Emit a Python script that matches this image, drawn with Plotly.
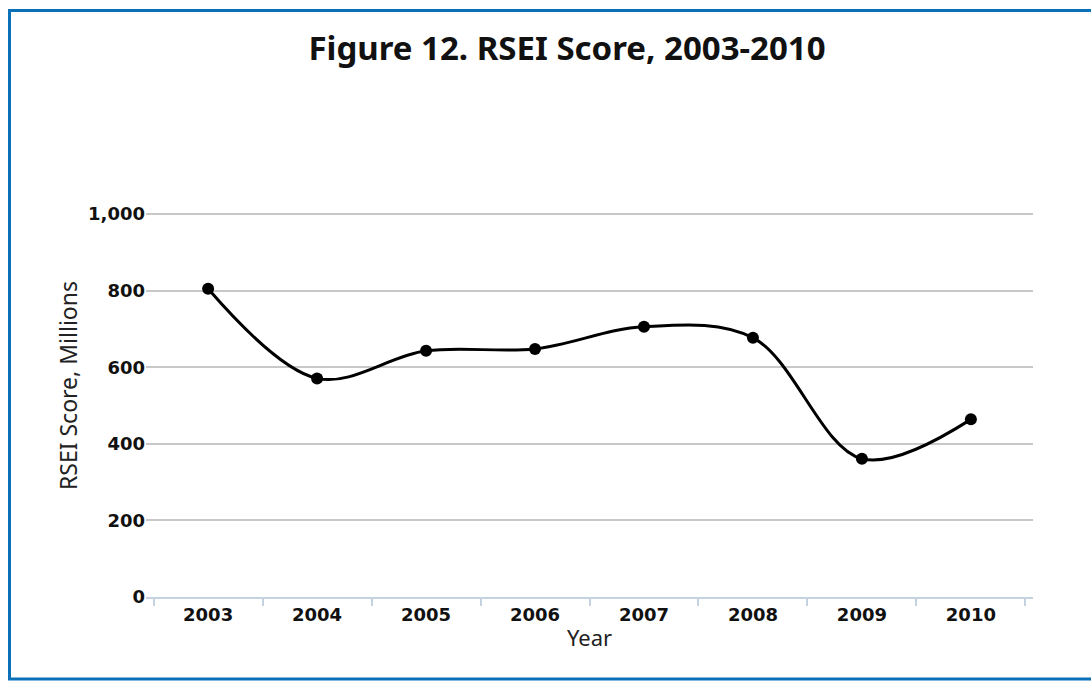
import plotly.graph_objects as go

# Datos
years = ['2003', '2004', '2005', '2006', '2007', '2008', '2009', '2010']
rsei_millions = [805, 571, 643, 648, 706, 677, 361, 464]
y_ticks = [0, 200, 400, 600, 800, 1000]

W, H = 1091, 681
M_L, M_R, M_T, M_B = 146, 58, 213, 84


def px_to_paper(x_px, y_px):
    # Convierte píxeles de la página a coordenadas 'paper'
    pw = W - M_L - M_R
    ph = H - M_T - M_B
    return (x_px - M_L) / pw, (H - M_B - y_px) / ph


fig = go.Figure()

# Línea suavizada con puntos
fig.add_trace(go.Scatter(
    x=years,
    y=rsei_millions,
    mode='lines+markers',
    line=dict(color='black', width=3, shape='spline', smoothing=1),
    marker=dict(color='black', size=12),
    showlegend=False,
    hoverinfo='x+y'
))

# Marco azul alrededor de la figura
x0, y1 = px_to_paper(9.5, 10.5)
x1, y0 = px_to_paper(1110, 679)
fig.add_shape(type='rect', xref='paper', yref='paper',
              x0=x0, x1=x1, y0=y0, y1=y1,
              line=dict(color='#0a70b8', width=3), layer='above')

# Título del eje Y (un poco por encima del centro, como en el original)
ax, ay = px_to_paper(68, 386)
fig.add_annotation(
    text='RSEI Score, Millions',
    xref='paper', yref='paper', x=ax, y=ay,
    xanchor='center', yanchor='middle',
    textangle=-90, showarrow=False,
    font=dict(family='Noto Sans', size=23, color='#222222')
)

fig.update_layout(
    width=W,
    height=H,
    margin=dict(l=M_L, r=M_R, t=M_T, b=M_B),
    paper_bgcolor='white',
    plot_bgcolor='white',
    title=dict(
        text='<b>Figure 12. RSEI Score, 2003-2010</b>',
        x=567 / W,
        xanchor='center',
        y=1 - 48 / H,
        yanchor='middle',
        font=dict(family='Noto Sans', size=33, color='#111111')
    ),
    xaxis=dict(
        type='category',
        range=[-0.57, 7.57],
        showgrid=False,
        showline=True,
        linecolor='#c4d2e2',
        linewidth=2,
        ticks='outside',
        tickson='boundaries',
        ticklen=7,
        tickwidth=2,
        tickcolor='#c4d2e2',
        tickfont=dict(family='DejaVu Sans', size=18, color='#111111', weight='bold'),
        title=dict(text='Year', font=dict(family='Noto Sans', size=22, color='#222222'),
                   standoff=7),
        fixedrange=True
    ),
    yaxis=dict(
        range=[0, 1003],
        tickvals=y_ticks,
        tickformat=',',
        showgrid=True,
        gridcolor='#c8c8c8',
        gridwidth=1.5,
        zeroline=False,
        showline=False,
        ticks='',
        tickfont=dict(family='DejaVu Sans', size=18, color='#111111', weight='bold'),
        fixedrange=True
    )
)

fig.write_html("out.html", config={'displayModeBar': False},
               post_script="document.body.style.margin = '0';")
